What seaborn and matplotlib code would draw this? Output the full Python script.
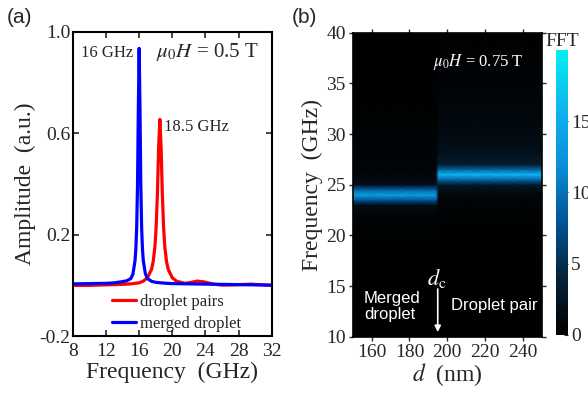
import matplotlib
matplotlib.use("Agg")
import matplotlib.pyplot as plt
import seaborn as sns
import numpy as np
import pandas as pd
from matplotlib.colors import LinearSegmentedColormap

sns.set_theme(style="ticks")
plt.rcParams['font.family'] = ['Liberation Serif', 'DejaVu Serif']
plt.rcParams['mathtext.fontset'] = 'stix'

# (a) espectros
freq_blue = [8, 10, 12, 13, 14, 14.5, 15, 15.25, 15.5, 15.6, 15.7, 15.8, 15.9, 16,
             16.1, 16.2, 16.3, 16.4, 16.5, 16.75, 17, 17.5, 18, 19, 20, 22, 24, 26, 28, 30, 32]
amp_blue = [0.006, 0.007, 0.008, 0.010, 0.015, 0.018, 0.027, 0.045, 0.097, 0.143, 0.227, 0.392, 0.695, 0.935,
            0.695, 0.392, 0.227, 0.143, 0.097, 0.046, 0.027, 0.016, 0.012, 0.009, 0.007, 0.006, 0.005, 0.004,
            0.003, 0.002, 0.001]
freq_red = [8, 10, 12, 14, 15, 16, 16.5, 17, 17.5, 17.7, 17.9, 18.05, 18.2, 18.35, 18.5,
            18.65, 18.8, 18.95, 19.1, 19.3, 19.5, 20, 20.5, 21.5, 22.3, 23, 23.8, 25, 26, 27.5, 29.5, 31, 32]
amp_red = [0.0, 0.0, 0.002, 0.004, 0.006, 0.010, 0.017, 0.030, 0.064, 0.095, 0.152, 0.229, 0.359, 0.543, 0.655,
           0.543, 0.359, 0.229, 0.152, 0.095, 0.064, 0.030, 0.017, 0.008, 0.012, 0.017, 0.014, 0.005, 0.001,
           0.002, 0.005, 0.002, 0.0]

# (b) mapa FFT: columnas en d, filas en frecuencia
d_cols = [150, 160, 170, 180, 190, 194, 195.5, 200, 210, 220, 230, 240, 250]
d_split = 195
f_rows = [10, 20, 22, 23, 23.5, 24, 24.5, 25, 25.5, 26, 26.5, 27, 28, 30, 34, 40]
fft_merged = [0, 0.2, 0.5, 1.5, 8, 13.5, 9, 2, 1.2, 0.9, 0.7, 0.6, 0.5, 0.35, 0.1, 0]
fft_pair = [0, 0.1, 0.3, 0.4, 0.6, 0.8, 1.5, 3, 9, 16, 9, 3.5, 2.0, 1.2, 0.5, 0.1]

cmap = LinearSegmentedColormap.from_list(
    "fft", ["#000000", "#062238", "#005596", "#0a8fd8", "#12b4f0", "#00f0f0"])

fig = plt.figure(figsize=(5.88, 3.94), dpi=100)
ax1 = fig.add_axes([0.124, 0.147, 0.338, 0.772])
ax2 = fig.add_axes([0.600, 0.145, 0.321, 0.772])
cax = fig.add_axes([0.946, 0.150, 0.020, 0.723])

# ---- panel (a)
df_r = pd.DataFrame({"f": freq_red, "a": amp_red})
df_b = pd.DataFrame({"f": freq_blue, "a": amp_blue})
sns.lineplot(data=df_r, x="f", y="a", ax=ax1, color="#ff0000", lw=2.3, label="droplet pairs")
sns.lineplot(data=df_b, x="f", y="a", ax=ax1, color="#0000ff", lw=2.3, label="merged droplet")
ax1.set_xlim(8, 32)
ax1.set_ylim(-0.2, 1.0)
ax1.set_xticks(range(8, 33, 4))
ax1.set_yticks([-0.2, 0.2, 0.6, 1.0])
ax1.set_yticklabels(["-0.2", "0.2", "0.6", "1.0"])
ax1.tick_params(axis="x", pad=5)
ax1.tick_params(direction="in", top=True, right=True, labelsize=14, length=4, width=1.2)
ax1.tick_params(axis="y", pad=2)
for s in ax1.spines.values():
    s.set_linewidth(1.5)
    s.set_color("black")
ax1.set_xlabel("Frequency  (GHz)", fontsize=17, labelpad=1)
ax1.set_ylabel("Amplitude  (a.u.)", fontsize=17, labelpad=2)
leg = ax1.legend(loc="lower left", bbox_to_anchor=(0.14, -0.025), frameon=False, fontsize=12,
                 handlelength=1.4, handletextpad=0.25, labelspacing=0.35, borderaxespad=0.3)
ax1.text(9.0, 0.915, "16 GHz", fontsize=12, va="center")
ax1.text(18.0, 0.92, r"$\mu_0H$ = 0.5 T", fontsize=15, va="center")
ax1.text(19.0, 0.625, "18.5 GHz", fontsize=12, va="center")
fig.text(0.012, 0.955, "(a)", fontsize=15, family="Liberation Sans", va="center")

# ---- panel (b)
Z = np.array([[fft_merged[i] if d < d_split else fft_pair[i] for d in d_cols]
              for i in range(len(f_rows))])
mesh = ax2.pcolormesh(d_cols, f_rows, Z, cmap=cmap, vmin=0, vmax=20, shading="gouraud")
ax2.set_xlim(150, 250)
ax2.set_ylim(10, 40)
ax2.set_xticks([160, 180, 200, 220, 240])
ax2.set_yticks([10, 15, 20, 25, 30, 35, 40])
ax2.tick_params(direction="out", top=True, right=True, labelsize=14, length=3, width=1.0, pad=2)
for s in ax2.spines.values():
    s.set_linewidth(1.2)
    s.set_color("black")
ax2.set_xlabel(r"$d$  (nm)", fontsize=17, labelpad=0)
ax2.set_ylabel("Frequency  (GHz)", fontsize=17, labelpad=2)
ax2.text(192.5, 37.1, r"$\mu_0H$ = 0.75 T", color="white", fontsize=12, va="center")
ax2.text(156, 13.0, "Merged\ndroplet", color="white", fontsize=12, family="Liberation Sans",
         va="center", linespacing=1.15)
ax2.text(202, 13.05, "Droplet pair", color="white", fontsize=12, family="Liberation Sans", va="center")
ax2.text(194.5, 15.8, r"$d_{\rm c}$", color="white", fontsize=16, ha="center", va="center")
ax2.annotate("", xy=(195, 10.2), xytext=(195, 15.0),
             arrowprops=dict(arrowstyle="-|>", color="white", lw=1.2, mutation_scale=9))
fig.text(0.497, 0.955, "(b)", fontsize=15, family="Liberation Sans", va="center")

cb = fig.colorbar(mesh, cax=cax, ticks=[0, 5, 10, 15])
cb.outline.set_linewidth(0)
cax.tick_params(labelsize=14, length=3, width=0.8, direction="in", pad=2)
cax.set_title("FFT", fontsize=14, pad=2)

fig.savefig("out.png", dpi=100)
